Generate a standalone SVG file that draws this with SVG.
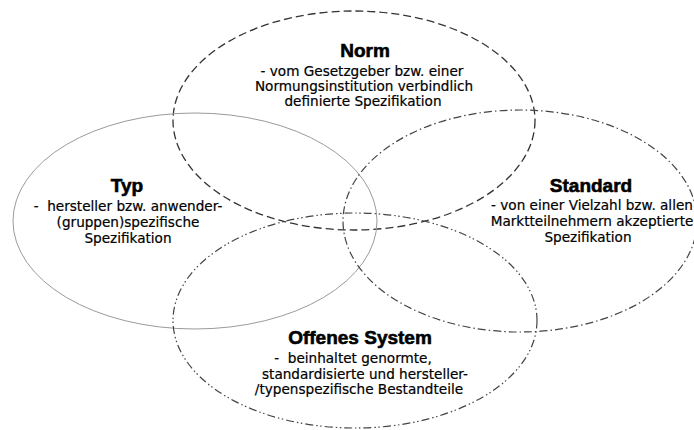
<svg xmlns="http://www.w3.org/2000/svg" width="694" height="430" viewBox="0 0 694 430">
<style>
.e{fill:none}
.norm{stroke:#333;stroke-width:1.3;stroke-dasharray:8 4}
.typ{stroke:#9a9a9a;stroke-width:1}
.std{stroke:#444;stroke-width:1.2;stroke-dasharray:8 3 1.5 3}
.off{stroke:#444;stroke-width:1.2;stroke-dasharray:8 3 1.5 2.5 1.5 3}
.t{font-family:"Liberation Sans",Arial,sans-serif;font-weight:900;font-size:19px;fill:#000;stroke:#000;stroke-width:0.6;text-anchor:middle}
.b{font-family:"DejaVu Sans","Noto Sans",sans-serif;font-size:13.6px;fill:#000;stroke:#000;stroke-width:0.2;text-anchor:middle}
</style>
<rect width="694" height="430" fill="#fff"/>
<g id="norm">
<ellipse class="e norm" cx="354" cy="120.5" rx="181" ry="109.5"/>
<text class="t" x="365" y="57">Norm</text>
<text class="b" x="362" y="76">- vom Gesetzgeber bzw. einer</text>
<text class="b" x="364" y="91">Normungsinstitution verbindlich</text>
<text class="b" x="363" y="106">definierte Spezifikation</text>
</g>
<g id="typ">
<ellipse class="e typ" cx="195" cy="221" rx="182" ry="108"/>
<text class="t" x="127" y="192">Typ</text>
<text class="b" x="128" y="211" xml:space="preserve">-  hersteller bzw. anwender-</text>
<text class="b" x="128" y="227">(gruppen)spezifische</text>
<text class="b" x="128" y="243">Spezifikation</text>
</g>
<g id="standard">
<ellipse class="e std" cx="520" cy="221" rx="177" ry="111"/>
<text class="t" x="591" y="192">Standard</text>
<text class="b" x="592" y="210">- von einer Vielzahl bzw. allen</text>
<text class="b" x="592" y="226">Marktteilnehmern akzeptierte</text>
<text class="b" x="588" y="242">Spezifikation</text>
</g>
<g id="offenes-system">
<ellipse class="e off" cx="355" cy="320.5" rx="182" ry="107.5"/>
<text class="t" x="360" y="344">Offenes System</text>
<text class="b" x="353" y="363" xml:space="preserve">-  beinhaltet genormte,</text>
<text class="b" x="365" y="379">standardisierte und hersteller-</text>
<text class="b" x="359" y="394">/typenspezifische Bestandteile</text>
</g>
</svg>
